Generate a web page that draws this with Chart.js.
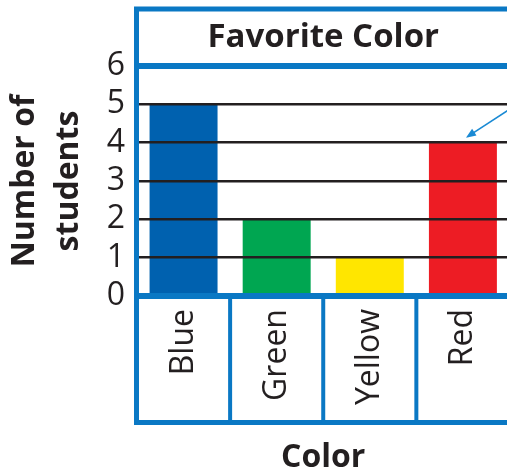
<!DOCTYPE html>
<html><head><meta charset="utf-8">
<script src="https://cdn.jsdelivr.net/npm/chart.js@4"></script>
<style>
html,body{margin:0;padding:0;background:#fff;overflow:hidden;}
#wrap{position:relative;width:515px;height:473px;}
canvas{display:block;}
</style></head><body>
<div id="wrap"><canvas id="c" width="515" height="473"></canvas></div>
<script>
const chartTitle = 'Favorite Color';
const categories = ['Blue', 'Green', 'Yellow', 'Red'];
const students = [5, 2, 1, 4];
const yTicks = [0, 1, 2, 3, 4, 5, 6];
const yTitle = ['Number of', 'students'];
const xTitle = 'Color';

const barColors = ['#0061af', '#00a651', '#ffe600', '#ed1c24'];
const FRAME = '#0a78c4';
const ARROW = '#1a8ad4';
const INK = '#231f20';
const FONT = "'Open Sans', sans-serif";

const framePlugin = {
  id: 'frame',
  afterDraw(chart) {
    const ctx = chart.ctx, a = chart.chartArea, xs = chart.scales.x;
    const W = chart.width;
    const top = a.top - 57, bottom = a.bottom + 126.5, left = a.left - 0.5;
    ctx.save();
    ctx.strokeStyle = FRAME;
    ctx.lineCap = 'butt';
    ctx.lineWidth = 5;
    ctx.beginPath(); ctx.moveTo(left - 2.5, top); ctx.lineTo(W, top); ctx.stroke();
    ctx.lineWidth = 6;
    ctx.beginPath(); ctx.moveTo(left, a.top); ctx.lineTo(W, a.top); ctx.stroke();
    ctx.beginPath(); ctx.moveTo(left, a.bottom); ctx.lineTo(W, a.bottom); ctx.stroke();
    ctx.lineWidth = 5;
    ctx.beginPath(); ctx.moveTo(left - 2.5, bottom); ctx.lineTo(W, bottom); ctx.stroke();
    ctx.beginPath(); ctx.moveTo(left, top); ctx.lineTo(left, bottom); ctx.stroke();
    ctx.lineWidth = 4;
    for (let i = 0; i < categories.length - 1; i++) {
      const xd = (xs.getPixelForValue(i) + xs.getPixelForValue(i + 1)) / 2;
      ctx.beginPath(); ctx.moveTo(xd, a.bottom); ctx.lineTo(xd, bottom); ctx.stroke();
    }
    const bar = chart.getDatasetMeta(0).data[categories.length - 1];
    const tx = bar.x + 3, ty = bar.y - 5;
    const dx = 40, dy = -26;
    const len = Math.hypot(dx, dy), ux = dx / len, uy = dy / len;
    ctx.strokeStyle = ARROW; ctx.fillStyle = ARROW; ctx.lineWidth = 1.6;
    ctx.beginPath(); ctx.moveTo(tx + ux * 7, ty + uy * 7); ctx.lineTo(tx + dx * 1.5, ty + dy * 1.5); ctx.stroke();
    const hl = 10, hw = 4;
    ctx.beginPath();
    ctx.moveTo(tx, ty);
    ctx.lineTo(tx + ux * hl - uy * hw, ty + uy * hl + ux * hw);
    ctx.lineTo(tx + ux * hl + uy * hw, ty + uy * hl - ux * hw);
    ctx.closePath(); ctx.fill();
    ctx.restore();
  }
};

new Chart(document.getElementById('c'), {
  type: 'bar',
  data: {
    labels: categories,
    datasets: [{
      data: students,
      backgroundColor: barColors,
      borderWidth: 0,
      barPercentage: 0.73,
      categoryPercentage: 1
    }]
  },
  options: {
    responsive: false,
    animation: false,
    devicePixelRatio: 1,
    layout: { padding: { left: 0, right: 5, top: 0, bottom: 0 } },
    plugins: { legend: { display: false }, tooltip: { enabled: false }, title: { display: false } },
    scales: {
      x: {
        position: 'bottom',
        grid: { display: false, drawTicks: false },
        border: { display: false },
        ticks: { color: INK, font: { family: FONT, size: 32 }, minRotation: 90, maxRotation: 90, padding: 13, autoSkip: false },
        title: { display: true, text: xTitle, color: INK, font: { family: FONT, size: 32, weight: 'bold' }, padding: { top: 0, bottom: -4 } },
        afterFit(s) { s.height = 177; }
      },
      x2: {
        type: 'category',
        labels: categories,
        position: 'top',
        grid: { display: false, drawTicks: false },
        border: { display: false },
        ticks: { display: false },
        title: { display: true, text: chartTitle, color: INK, font: { family: FONT, size: 33, weight: 'bold' }, padding: { top: 18, bottom: 0 } },
        afterFit(s) { s.height = 66; }
      },
      y: {
        min: 0, max: 6,
        grid: { color: INK, lineWidth: 2.5, z: 1, drawTicks: false },
        border: { display: false },
        afterBuildTicks(s) { s.ticks = yTicks.map(v => ({ value: v })); },
        ticks: {
          autoSkip: false, color: INK, font: { family: FONT, size: 32 }, padding: 12,
          callback: (v) => String(v)
        },
        title: { display: true, text: yTitle, color: INK, font: { family: FONT, size: 32, weight: 'bold', lineHeight: 1.4 }, padding: { top: 2, bottom: 0 } },
        afterFit(s) { s.width = 137; }
      }
    }
  },
  plugins: [framePlugin]
});
</script>
</body></html>
